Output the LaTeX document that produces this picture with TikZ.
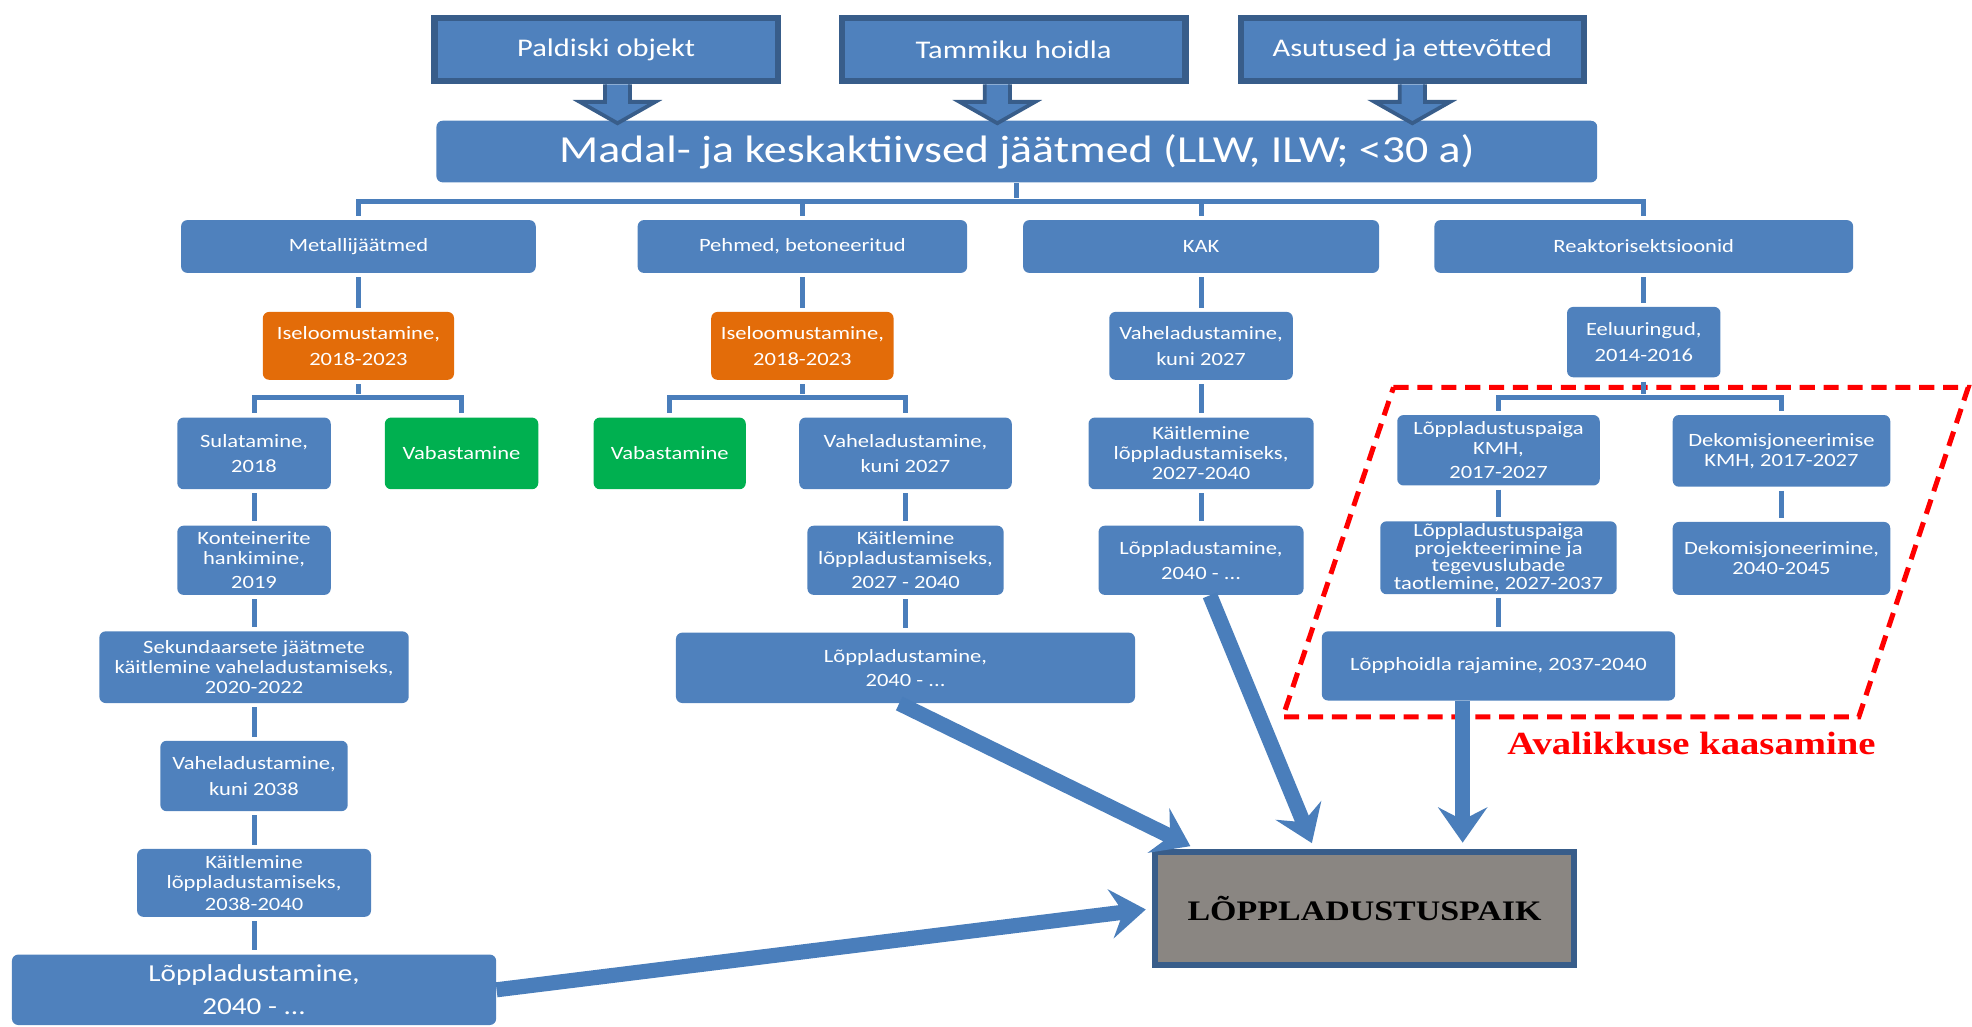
\documentclass[tikz,border=0pt]{standalone}
\usepackage{fontspec}
\usetikzlibrary{arrows.meta}
\newfontfamily\boxfont[FakeStretch=1.2]{Carlito}
\newfontfamily\capfont[FakeStretch=1.2]{Liberation Serif}
\definecolor{boxblue}{HTML}{4F81BD}
\definecolor{edgeblue}{HTML}{385D8A}
\definecolor{linkblue}{HTML}{4A7EBB}
\definecolor{boxorange}{HTML}{E36C09}
\definecolor{boxgreen}{HTML}{00B050}
\definecolor{sitegray}{HTML}{8A8682}

\begin{document}
\begin{tikzpicture}[x=0.2mm, y=-0.2mm,
    wh/.style 2 args={minimum width=#1*0.2mm, minimum height=#2*0.2mm},
    box/.style={fill=boxblue, rounded corners=1mm, text=white, align=center, inner sep=1pt,
        font=\boxfont\fontsize{8.5}{9}\selectfont},
    orangebox/.style={box, fill=boxorange},
    greenbox/.style={box, fill=boxgreen},
    topbox/.style={fill=boxblue, draw=edgeblue, line width=1mm, text=white, align=center,
        minimum width=54.6mm, minimum height=10mm, font=\boxfont\fontsize{11.5}{12}\selectfont},
    blockarrow/.style={fill=boxblue, draw=edgeblue, line width=0.6mm, line join=miter},
    link/.style={draw=linkblue, line width=0.8mm, shorten >=0.6mm},
    gap/.style={shorten <=0.6mm},
    bigarrow/.style={draw=linkblue, line width=2.4mm, shorten >=1mm,
        -{Stealth[length=5.6mm, width=7.8mm, inset=2mm]}}]
    \useasboundingbox (0,0) rectangle (1568,816);

    % public involvement frame
    \draw[red, line width=0.8mm, dash pattern=on 2.4mm off 1.4mm]
        (1108,308) -- (1565,308) -- (1478,570) -- (1020,570) -- cycle;
    \node[text=red, font=\capfont\bfseries\fontsize{14.6}{16}\selectfont] (avalik) at (1345,591) {Avalikkuse kaasamine};

    % sources
    \node[topbox] (paldiski) at (482,39.5) {Paldiski objekt};
    \node[topbox] (tammiku) at (806,39.5) {Tammiku hoidla};
    \node[topbox] (asutused) at (1123,39.5) {Asutused ja ettevõtted};
    \node[box, wh={923}{49}, font=\boxfont\fontsize{17.3}{18}\selectfont] (madal) at (808.5,120.5)
        {Madal- ja keskaktiivsed jäätmed (LLW, ILW; <30 a)};
    \foreach \src/\dx in {paldiski/9, tammiku/-13, asutused/0}
        \draw[blockarrow] ([xshift=\dx*0.2mm]\src.south) ++(-10,0) -- ++(0,14) -- ++(-20,0)
            -- ++(30,17) -- ++(30,-17) -- ++(-20,0) -- ++(0,-14);

    % waste groups
    \node[box, wh={282}{42}] (metall) at (285,196) {Metallijäätmed};
    \node[box, wh={262}{42}] (pehmed) at (638,196) {Pehmed, betoneeritud};
    \node[box, wh={283}{42}] (kak) at (955,196) {KAK};
    \node[box, wh={333}{42}] (reaktor) at (1307,196) {Reaktorisektsioonid};

    % metal waste
    \node[orangebox, wh={152}{54}] (iselo1) at (285,275) {Iseloomustamine,\\[2.5pt]2018-2023};
    \node[box, wh={122}{57}] (sula) at (202,360.5) {Sulatamine,\\[2.5pt]2018};
    \node[greenbox, wh={122}{57}] (vaba1) at (367,360.5) {Vabastamine};
    \node[box, wh={122}{55}] (konteiner) at (202,445.5) {Konteinerite\\hankimine,\\[2pt]2019};
    \node[box, wh={246}{57}] (sekund) at (202,530.5)
        {Sekundaarsete jäätmete\\käitlemine vaheladustamiseks,\\2020-2022};
    \node[box, wh={149}{56}] (vahe3) at (202,617) {Vaheladustamine,\\[2.5pt]kuni 2038};
    \node[box, wh={186}{54}] (kait3) at (202,702) {Käitlemine\\lõppladustamiseks,\\[1pt]2038-2040};
    \node[box, wh={385}{56}, font=\boxfont\fontsize{11}{13}\selectfont] (lopp3) at (202,787)
        {Lõppladustamine,\\[2pt]2040 - ...};

    % soft waste
    \node[orangebox, wh={145}{54}] (iselo2) at (638,275) {Iseloomustamine,\\[2.5pt]2018-2023};
    \node[greenbox, wh={121}{57}] (vaba2) at (532.5,360.5) {Vabastamine};
    \node[box, wh={169}{57}] (vahe2) at (720,360.5) {Vaheladustamine,\\[2.5pt]kuni 2027};
    \node[box, wh={156}{55}] (kait2) at (720,445.5) {Käitlemine\\lõppladustamiseks,\\[2pt]2027 - 2040};
    \node[box, wh={365}{56}] (lopp2) at (720,531) {Lõppladustamine,\\[2pt]2040 - ...};

    % KAK
    \node[box, wh={146}{54}] (vahe1) at (955,275) {Vaheladustamine,\\[2.5pt]kuni 2027};
    \node[box, wh={179}{57}] (kait1) at (955,360.5) {Käitlemine\\lõppladustamiseks,\\2027-2040};
    \node[box, wh={163}{55}] (lopp1) at (955,445.5) {Lõppladustamine,\\[2.5pt]2040 - ...};

    % reactor sections
    \node[box, wh={122}{56}] (eeluur) at (1307,272) {Eeluuringud,\\[2.5pt]2014-2016};
    \node[box, wh={161}{56}] (kmh1) at (1191.5,358) {Lõppladustuspaiga\\KMH,\\[2pt]2017-2027};
    \node[box, wh={173}{57}] (kmh2) at (1416.5,358.5) {Dekomisjoneerimise\\KMH, 2017-2027};
    \node[box, wh={188}{57}, font=\boxfont\fontsize{8.5}{8}\selectfont] (projekt) at (1191.5,443.5)
        {Lõppladustuspaiga\\projekteerimine ja\\tegevuslubade\\taotlemine, 2027-2037};
    \node[box, wh={173}{58}] (dekom) at (1416.5,444) {Dekomisjoneerimine,\\2040-2045};
    \node[box, wh={281}{55}] (rajamine) at (1191.5,529.5) {Lõpphoidla rajamine, 2037-2040};

    % repository
    \node[fill=sitegray, draw=edgeblue, line width=1mm, wh={333}{90},
        font=\capfont\bfseries\fontsize{12.8}{14}\selectfont] (koht) at (1085,722.5) {LÕPPLADUSTUSPAIK};

    % tree links
    \draw[link] (madal.south) -- ++(0,15) coordinate (b0);
    \foreach \n in {metall, pehmed, kak, reaktor}
        \draw[link] (b0) -| (\n.north);
    \draw[link, gap] (metall) -- (iselo1);
    \draw[link, gap] (pehmed) -- (iselo2);
    \draw[link, gap] (kak) -- (vahe1);
    \draw[link, gap] (reaktor) -- (eeluur);
    \draw[link, gap] (iselo1.south) -- ++(0,14) coordinate (b1);
    \draw[link] (b1) -| (sula.north);
    \draw[link] (b1) -| (vaba1.north);
    \draw[link, gap] (iselo2.south) -- ++(0,14) coordinate (b2);
    \draw[link] (b2) -| (vaba2.north);
    \draw[link] (b2) -| (vahe2.north);
    \draw[link, gap] (eeluur.south) -- ++(0,16) coordinate (b3);
    \draw[link] (b3) -| (kmh1.north);
    \draw[link] (b3) -| (kmh2.north);
    \draw[link, gap] (sula) -- (konteiner);
    \draw[link, gap] (konteiner) -- (sekund);
    \draw[link, gap] (sekund) -- (vahe3);
    \draw[link, gap] (vahe3) -- (kait3);
    \draw[link, gap] (kait3) -- (lopp3);
    \draw[link, gap] (vahe2) -- (kait2);
    \draw[link, gap] (kait2) -- (lopp2);
    \draw[link, gap] (vahe1) -- (kait1);
    \draw[link, gap] (kait1) -- (lopp1);
    \draw[link, gap] (kmh1) -- (projekt);
    \draw[link, gap] (projekt) -- (rajamine);
    \draw[link, gap] (kmh2) -- (dekom);

    % into the repository
    \draw[bigarrow] ([xshift=-1mm]lopp2.south) -- ([xshift=7mm]koht.north west);
    \draw[bigarrow] ([xshift=1.4mm]lopp1.south) -- ([xshift=25.8mm]koht.north west);
    \draw[bigarrow] ([xshift=-5.7mm]rajamine.south) -- ([xshift=-5.7mm]rajamine.south |- koht.north);
    \draw[bigarrow] (lopp3.east) -- (koht.west);
\end{tikzpicture}
\end{document}
